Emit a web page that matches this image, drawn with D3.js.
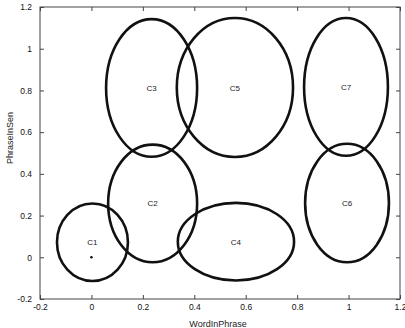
<!DOCTYPE html>
<html lang="en">
<head>
    <meta charset="utf-8">
    <title>Clusters</title>
    <script src="https://cdn.jsdelivr.net/npm/d3@7"></script>
    <style>
        body { margin: 0; background: #fff; }
        text { font-family: "Liberation Sans", Arial, sans-serif; }
    </style>
</head>
<body>
<script>
    // cluster ellipses (data units)
    var names = ["C1", "C2", "C3", "C4", "C5", "C6", "C7"];
    var cx = [0.004, 0.238, 0.234, 0.562, 0.558, 0.994, 0.990];
    var cy = [0.072, 0.258, 0.812, 0.075, 0.814, 0.260, 0.817];
    var rx = [0.138, 0.173, 0.177, 0.226, 0.226, 0.163, 0.163];
    var ry = [0.186, 0.282, 0.330, 0.186, 0.333, 0.284, 0.330];
    var points = [[0, 0]];
    var xTicks = [-0.2, 0, 0.2, 0.4, 0.6, 0.8, 1, 1.2];
    var yTicks = [-0.2, 0, 0.2, 0.4, 0.6, 0.8, 1, 1.2];

    var w = 405, h = 328;
    var padL = 40, padR = 400, padT = 7, padB = 299;  // plot box edges in px

    var x = d3.scaleLinear().domain([-0.2, 1.2]).range([padL, padR]);
    var y = d3.scaleLinear().domain([-0.2, 1.2]).range([padB, padT]);

    var svg = d3.select("body").append("svg")
        .attr("width", w)
        .attr("height", h);

    // box
    svg.append("rect")
        .attr("x", padL).attr("y", padT)
        .attr("width", padR - padL).attr("height", padB - padT)
        .attr("fill", "none").attr("stroke", "#444").attr("stroke-width", 1);

    // axes with inward ticks (matlab style)
    var fmt = function (d) { return String(+d.toFixed(1)); };
    svg.append("g").attr("transform", "translate(0," + padB + ")")
        .call(d3.axisBottom(x).tickValues(xTicks).tickSize(-4).tickPadding(5).tickFormat(fmt));
    svg.append("g").attr("transform", "translate(0," + padT + ")")
        .call(d3.axisTop(x).tickValues(xTicks).tickSize(-4).tickFormat(""));
    svg.append("g").attr("transform", "translate(" + padL + ",0)")
        .call(d3.axisLeft(y).tickValues(yTicks).tickSize(-4).tickPadding(8).tickFormat(fmt));
    svg.append("g").attr("transform", "translate(" + padR + ",0)")
        .call(d3.axisRight(y).tickValues(yTicks).tickSize(-4).tickFormat(""));

    svg.selectAll(".domain").remove();
    svg.selectAll(".tick line").attr("stroke", "#444");
    svg.selectAll(".tick text")
        .attr("font-family", "Liberation Sans, Arial, sans-serif")
        .attr("font-size", "8.5px")
        .attr("fill", "#111");

    // ellipses
    svg.selectAll("ellipse")
        .data(names)
        .enter()
        .append("ellipse")
        .attr("cx", function (d, i) { return x(cx[i]); })
        .attr("cy", function (d, i) { return y(cy[i]); })
        .attr("rx", function (d, i) { return x(cx[i] + rx[i]) - x(cx[i]); })
        .attr("ry", function (d, i) { return y(cy[i]) - y(cy[i] + ry[i]); })
        .attr("fill", "none")
        .attr("stroke", "#111")
        .attr("stroke-width", 2.6);

    svg.selectAll("text.lbl")
        .data(names)
        .enter()
        .append("text")
        .attr("class", "lbl")
        .text(function (d) { return d; })
        .attr("x", function (d, i) { return x(cx[i]); })
        .attr("y", function (d, i) { return y(cy[i]) + 3; })
        .attr("text-anchor", "middle")
        .attr("font-size", "8px")
        .attr("fill", "#222");

    svg.selectAll("circle")
        .data(points)
        .enter()
        .append("circle")
        .attr("cx", function (d) { return x(d[0]); })
        .attr("cy", function (d) { return y(d[1]); })
        .attr("r", 1.3)
        .attr("fill", "#111");

    // axis titles
    svg.append("text")
        .text("WordInPhrase")
        .attr("x", 218).attr("y", 327)
        .attr("text-anchor", "middle")
        .attr("font-family", "Liberation Serif, serif")
        .attr("font-size", "9px")
        .attr("fill", "#222");

    svg.append("text")
        .text("PhraseInSen")
        .attr("transform", "translate(13,138) rotate(-90)")
        .attr("text-anchor", "middle")
        .attr("font-family", "Liberation Serif, serif")
        .attr("font-size", "9px")
        .attr("fill", "#222");
</script>
</body>
</html>
